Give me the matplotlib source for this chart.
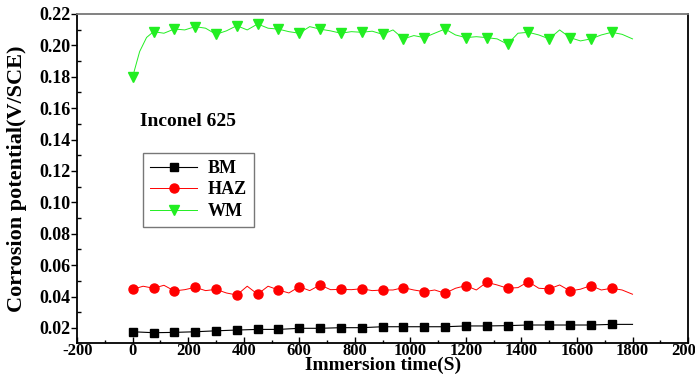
import matplotlib
matplotlib.use("Agg")
import matplotlib.pyplot as plt
from matplotlib.ticker import MultipleLocator, FormatStrFormatter

# ---- data ----
bm_t = [0, 75, 150, 225, 300, 375, 450, 525, 600, 675, 750, 825, 900, 975,
        1050, 1125, 1200, 1275, 1350, 1425, 1500, 1575, 1650, 1725, 1800]
bm_v = [0.0176, 0.0170, 0.0172, 0.0176, 0.0182, 0.0187, 0.0191, 0.0191, 0.0198,
        0.0198, 0.0202, 0.0202, 0.0208, 0.0208, 0.0208, 0.0208, 0.0213, 0.0213,
        0.0215, 0.0219, 0.0219, 0.0219, 0.0219, 0.0223, 0.0223]

haz_t = [0, 37.5, 75, 112.5, 150, 187.5, 225, 262.5, 300, 337.5, 375, 412.5,
         450, 487.5, 525, 562.5, 600, 637.5, 675, 712.5, 750, 787.5, 825, 862.5,
         900, 937.5, 975, 1012.5, 1050, 1087.5, 1125, 1162.5, 1200, 1237.5,
         1275, 1312.5, 1350, 1387.5, 1425, 1462.5, 1500, 1537.5, 1575, 1612.5,
         1650, 1687.5, 1725, 1762.5, 1800]
haz_v = [0.0446, 0.0466, 0.0453, 0.0472, 0.0436, 0.0444, 0.0459, 0.0438, 0.0446,
         0.0423, 0.0410, 0.0466, 0.0415, 0.0466, 0.0442, 0.0423, 0.0463, 0.0438,
         0.0474, 0.0444, 0.0446, 0.0444, 0.0450, 0.0438, 0.0442, 0.0442, 0.0457,
         0.0442, 0.0431, 0.0442, 0.0421, 0.0453, 0.0470, 0.0442, 0.0491, 0.0474,
         0.0453, 0.0457, 0.0495, 0.0453, 0.0449, 0.0474, 0.0436, 0.0447, 0.0470,
         0.0442, 0.0453, 0.0442, 0.0415]

wm_t = [0, 25, 50, 75, 112.5, 150, 187.5, 225, 262.5, 300, 337.5, 375, 412.5,
        450, 487.5, 525, 562.5, 600, 637.5, 675, 712.5, 750, 787.5, 825, 862.5,
        900, 937.5, 975, 1012.5, 1050, 1087.5, 1125, 1162.5, 1200, 1237.5,
        1275, 1312.5, 1350, 1387.5, 1425, 1462.5, 1500, 1537.5, 1575, 1612.5,
        1650, 1687.5, 1725, 1762.5, 1800]
wm_v = [0.180, 0.1960, 0.2050, 0.2087, 0.2077, 0.2104, 0.2098, 0.2119, 0.2109,
        0.2070, 0.2092, 0.2125, 0.2098, 0.2136, 0.2109, 0.2103, 0.2087, 0.2077,
        0.2119, 0.2103, 0.2092, 0.2077, 0.2087, 0.2083, 0.2090, 0.2070, 0.2098,
        0.2041, 0.2062, 0.2049, 0.2077, 0.2104, 0.2066, 0.2049, 0.2055, 0.2049,
        0.2041, 0.2007, 0.2077, 0.2083, 0.2066, 0.2041, 0.2098, 0.2049, 0.2028,
        0.2041, 0.2066, 0.2083, 0.2070, 0.2041]

labels = ["BM", "HAZ", "WM"]
colors = ["black", "red", "#22ee22"]
mark_step = 75
mark_end = 1725

plt.rcParams['font.family'] = ['Liberation Serif', 'DejaVu Serif']
plt.rcParams['font.weight'] = 'bold'
plt.rcParams['axes.unicode_minus'] = False

fig = plt.figure(figsize=(6.95, 3.76), dpi=100)
ax = fig.add_axes([0.111, 0.088, 0.879, 0.875])


def mk(ts):
    return [i for i, t in enumerate(ts) if (t % mark_step == 0 and t <= mark_end)]


ax.plot(bm_t, bm_v, color=colors[0], lw=0.8, marker='s', ms=5.5,
        markevery=mk(bm_t), label=labels[0])
ax.plot(haz_t, haz_v, color=colors[1], lw=0.7, marker='o', ms=6.5,
        markevery=mk(haz_t), label=labels[1])
ax.plot(wm_t, wm_v, color=colors[2], lw=0.7, marker='v', ms=7,
        markevery=mk(wm_t), label=labels[2])

ax.set_xlim(-200, 2000)
ax.set_ylim(0.0105, 0.22)
ax.xaxis.set_major_locator(MultipleLocator(200))
ax.xaxis.set_minor_locator(MultipleLocator(100))
ax.yaxis.set_major_locator(MultipleLocator(0.02))
ax.yaxis.set_minor_locator(MultipleLocator(0.01))
ax.yaxis.set_major_formatter(FormatStrFormatter('%.2f'))

ax.tick_params(axis='x', which='major', direction='in', length=4, width=1,
               labelsize=12, pad=0)
ax.tick_params(axis='x', which='minor', direction='in', length=2, width=1)
ax.tick_params(axis='y', which='major', direction='out', length=4, width=1,
               labelsize=13, pad=1)
ax.tick_params(axis='y', which='minor', direction='in', length=3, width=1)
for lab in ax.get_xticklabels() + ax.get_yticklabels():
    lab.set_fontweight('bold')

for s in ['left', 'bottom', 'right']:
    ax.spines[s].set_linewidth(1.3)
    ax.spines[s].set_color('black')
ax.spines['top'].set_color('#777777')
ax.spines['top'].set_linewidth(1.3)

ax.set_xlabel("Immersion time(S)", fontsize=14, fontweight='bold')
ax.xaxis.set_label_coords(0.5, -0.042)
ax.xaxis.label.set_va('top')
ax.set_ylabel("Corrosion potential(V/SCE)", fontsize=16, fontweight='bold')
ax.yaxis.set_label_coords(-0.098, 0.5)
ax.yaxis.label.set_va('center')

ax.text(0.103, 0.672, "Inconel 625", transform=ax.transAxes, fontsize=14,
        fontweight='bold', va='center', ha='left')

leg = ax.legend(loc='upper left', bbox_to_anchor=(0.108, 0.578),
                frameon=True, fancybox=False, edgecolor='#555555',
                handlelength=2.6, borderpad=0.4, labelspacing=0.25,
                handletextpad=0.6, borderaxespad=0,
                prop={'weight': 'bold', 'size': 13})
leg.get_frame().set_linewidth(1.0)

fig.savefig("out.png", dpi=100)
